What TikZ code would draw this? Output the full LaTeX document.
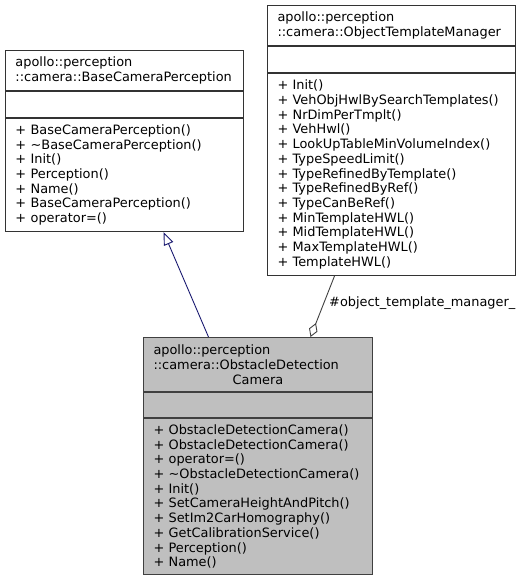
\documentclass[tikz,border=0pt]{standalone}
\usepackage{fontspec}
\setmainfont{DejaVu Sans}
\usetikzlibrary{positioning,arrows.meta}
\definecolor{inheritblue}{HTML}{191970}
\definecolor{usegrey}{HTML}{404040}
\definecolor{focusgrey}{HTML}{BFBFBF}
\hyphenpenalty=10000
\begin{document}
\begin{tikzpicture}[x=1pt,y=-1pt]
    % Define styles
    \tikzstyle{part}=[draw=black!80,line width=1pt,fill=white,anchor=north west,inner xsep=10pt,inner ysep=0pt,align=left,font=\fontsize{12.9}{14.7}\selectfont]
    \tikzstyle{focus}=[part,fill=focusgrey,draw=usegrey]
    \tikzstyle{inherit}=[line width=0.9pt,draw=inheritblue,-{Triangle[open,length=13pt,width=10pt]}]
    \tikzstyle{aggregate}=[line width=0.9pt,draw=usegrey,-{Diamond[open,length=15pt,width=9pt]}]
    \useasboundingbox (0,0) rectangle (523,580);

    % Draw the nodes
    \node[part,text width=218pt,minimum height=40pt] (1) at (5,50) {apollo::perception\\::camera::BaseCameraPerception};
    \node[part,text width=218pt,minimum height=26pt,below=0pt of 1] (1a) {};
    \node[part,text width=218pt,minimum height=113pt,below=0pt of 1a] (1m) {+ BaseCameraPerception()\\+ \textasciitilde BaseCameraPerception()\\+ Init()\\+ Perception()\\+ Name()\\+ BaseCameraPerception()\\+ operator=()};

    \node[part,text width=228pt,minimum height=40pt] (2) at (267,5) {apollo::perception\\::camera::ObjectTemplateManager};
    \node[part,text width=228pt,minimum height=26pt,below=0pt of 2] (2a) {};
    \node[part,text width=228pt,minimum height=202pt,below=0pt of 2a] (2m) {+ Init()\\+ VehObjHwlBySearchTemplates()\\+ NrDimPerTmplt()\\+ VehHwl()\\+ LookUpTableMinVolumeIndex()\\+ TypeSpeedLimit()\\+ TypeRefinedByTemplate()\\+ TypeRefinedByRef()\\+ TypeCanBeRef()\\+ MinTemplateHWL()\\+ MidTemplateHWL()\\+ MaxTemplateHWL()\\+ TemplateHWL()};

    \node[focus,text width=209pt,minimum height=54pt] (3) at (143,337) {apollo::perception\\::camera::ObstacleDetection\\\makebox[209pt][c]{Camera}};
    \node[focus,text width=209pt,minimum height=25pt,below=0pt of 3] (3a) {};
    \node[focus,text width=209pt,minimum height=156pt,below=0pt of 3a] (3m) {+ ObstacleDetectionCamera()\\+ ObstacleDetectionCamera()\\+ operator=()\\+ \textasciitilde ObstacleDetectionCamera()\\+ Init()\\+ SetCameraHeightAndPitch()\\+ SetIm2CarHomography()\\+ GetCalibrationService()\\+ Perception()\\+ Name()};

    % Draw the edges
    \draw[inherit] ([xshift=-49.5pt]3.north) -- ([xshift=39pt]1m.south);
    \draw[aggregate] ([xshift=-57pt]2m.south) -- ([xshift=52.5pt]3.north);
    \node[anchor=west,inner sep=0pt,font=\fontsize{12.9}{14.7}\selectfont] (use) at (329,303) {\#object\_template\_manager\_};
\end{tikzpicture}
\end{document}
